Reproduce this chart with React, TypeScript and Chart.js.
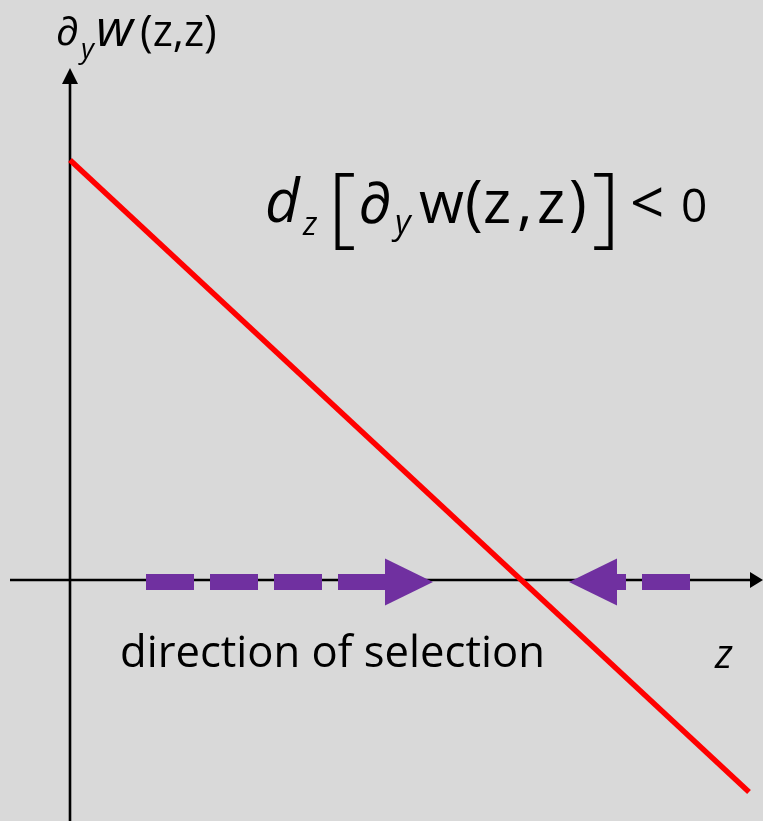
import { useEffect, useRef } from "react";
import { Chart, registerables } from "chart.js";

Chart.register(...registerables);

const W = 763;
const H = 821;

// Selection gradient: falls linearly with z and crosses zero
const zValues = [0, 6.79];
const gradientValues = [4.2, -2.12];

// Direction-of-selection arrows drawn along the z axis
const arrowTails = [0.76, 6.2];
const arrowTips = [3.63, 4.99];
const arrowLevel = -0.02;

// Visible extent of the coordinate axes (data units)
const zAxisStart = -0.6;
const gradientAxisTop = 5.12;

const BG = "#d9d9d9";
const RED = "#ff0000";
const PURPLE = "#7030a0";
const FAMILY = "'Open Sans', 'DejaVu Sans', sans-serif";

type Run = [string, string, number, number];

// d_z [ ∂_y w(z,z) ] < 0
const formulaRuns: Run[] = [
  ["d", "italic 60px", 265, 222],
  ["z", "italic 32px", 303, 235],
  ["[", "300 88px", 328, 236],
  ["∂", "italic 58px", 358, 223],
  ["y", "italic 34px", 395, 234],
  ["w", "58px", 419, 223],
  ["(", "60px", 465, 223],
  ["z", "60px", 483, 223],
  [",", "60px", 517, 223],
  ["z", "60px", 537, 223],
  [")", "60px", 569, 223],
  ["]", "300 88px", 592, 236],
  ["<", "60px", 630, 224],
  ["0", "46px", 681, 222],
];

// ∂_y w(z,z) axis title
const axisTitleRuns: Run[] = [
  ["∂", "40px", 56, 45],
  ["y", "italic 28px", 81, 58],
  ["w", "italic 52px", 96, 46],
  ["(z,z)", "43px", 140, 46],
];

function drawRuns(ctx: CanvasRenderingContext2D, runs: Run[]) {
  ctx.fillStyle = "#000";
  ctx.textAlign = "left";
  ctx.textBaseline = "alphabetic";
  for (const [text, font, x, y] of runs) {
    ctx.font = `${font} ${FAMILY}`;
    ctx.fillText(text, x, y);
  }
}

function drawSelectionArrow(ctx: CanvasRenderingContext2D, xTail: number, xTip: number, y: number) {
  const dir = Math.sign(xTip - xTail);
  const headLen = 48;
  const halfHead = 23.5;
  const base = xTip - dir * headLen;
  ctx.save();
  ctx.strokeStyle = PURPLE;
  ctx.lineWidth = 16;
  ctx.lineCap = "butt";
  ctx.setLineDash([48, 16]);
  ctx.beginPath();
  ctx.moveTo(xTail, y);
  ctx.lineTo(base + dir * 1, y);
  ctx.stroke();
  ctx.setLineDash([]);
  ctx.fillStyle = PURPLE;
  ctx.beginPath();
  ctx.moveTo(xTip, y);
  ctx.lineTo(base, y - halfHead);
  ctx.lineTo(base, y + halfHead);
  ctx.closePath();
  ctx.fill();
  ctx.restore();
}

const diagramPlugin = {
  id: "diagram",
  beforeDraw(chart: Chart) {
    const ctx = chart.ctx;
    ctx.save();
    ctx.fillStyle = BG;
    ctx.fillRect(0, 0, chart.width, chart.height);
    ctx.restore();
  },
  beforeDatasetsDraw(chart: Chart) {
    const ctx = chart.ctx;
    const xs = chart.scales.x;
    const ys = chart.scales.y;
    const x0 = xs.getPixelForValue(0);
    const y0 = ys.getPixelForValue(0);
    const left = xs.getPixelForValue(zAxisStart);
    const right = chart.width;
    const top = ys.getPixelForValue(gradientAxisTop);
    const bottom = chart.height;
    ctx.save();
    ctx.strokeStyle = "#000";
    ctx.fillStyle = "#000";
    ctx.lineWidth = 2.6;
    // horizontal z axis
    ctx.beginPath();
    ctx.moveTo(left, y0);
    ctx.lineTo(right - 10, y0);
    ctx.stroke();
    ctx.beginPath();
    ctx.moveTo(right, y0);
    ctx.lineTo(right - 13, y0 - 8);
    ctx.lineTo(right - 13, y0 + 8);
    ctx.closePath();
    ctx.fill();
    // vertical gradient axis
    ctx.beginPath();
    ctx.moveTo(x0, bottom);
    ctx.lineTo(x0, top + 10);
    ctx.stroke();
    ctx.beginPath();
    ctx.moveTo(x0, top);
    ctx.lineTo(x0 - 8, top + 16);
    ctx.lineTo(x0 + 8, top + 16);
    ctx.closePath();
    ctx.fill();
    ctx.restore();
  },
  afterDatasetsDraw(chart: Chart) {
    const ctx = chart.ctx;
    const xs = chart.scales.x;
    const ys = chart.scales.y;
    const yArrow = ys.getPixelForValue(arrowLevel);
    arrowTails.forEach((tail, i) => {
      drawSelectionArrow(ctx, xs.getPixelForValue(tail), xs.getPixelForValue(arrowTips[i]), yArrow);
    });

    ctx.save();
    drawRuns(ctx, formulaRuns);
    drawRuns(ctx, axisTitleRuns);

    // caption under the arrows, fitted to its width
    const caption = "direction of selection";
    ctx.font = `36px ${FAMILY}`;
    const wMeasured = ctx.measureText(caption).width;
    const size = (36 * 425) / wMeasured;
    ctx.font = `${size.toFixed(2)}px ${FAMILY}`;
    ctx.fillText(caption, 120, 667);

    // z axis label
    ctx.font = `italic 40px ${FAMILY}`;
    ctx.fillText("z", 715, 668);
    ctx.restore();
  },
};

export default function App() {
  const canvasRef = useRef<HTMLCanvasElement | null>(null);

  useEffect(() => {
    const canvas = canvasRef.current;
    if (!canvas) return;
    const chart = new Chart(canvas, {
      type: "scatter",
      data: {
        datasets: [
          {
            data: zValues.map((z, i) => ({ x: z, y: gradientValues[i] })),
            showLine: true,
            borderColor: RED,
            borderWidth: 5.5,
            borderCapStyle: "butt",
            pointRadius: 0,
            pointHoverRadius: 0,
          },
        ],
      },
      options: {
        animation: false,
        responsive: false,
        devicePixelRatio: 1,
        layout: { padding: 0 },
        plugins: { legend: { display: false }, tooltip: { enabled: false } },
        events: [],
        scales: {
          x: { type: "linear", min: -0.7, max: 6.93, display: false },
          y: { type: "linear", min: -2.41, max: 5.8, display: false },
        },
      },
      plugins: [diagramPlugin],
    });
    return () => chart.destroy();
  }, []);

  return (
    <div style={{ position: "fixed", left: 0, top: 0, width: W, height: H, background: BG }}>
      <canvas ref={canvasRef} width={W} height={H} style={{ display: "block" }} />
    </div>
  );
}
